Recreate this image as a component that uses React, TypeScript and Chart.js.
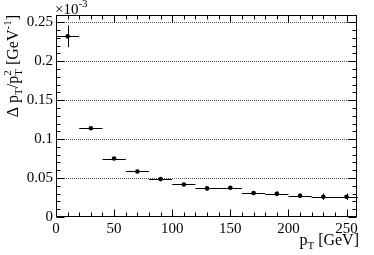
import React, { useEffect, useRef } from 'react';
import { Chart, registerables } from 'chart.js';

Chart.register(...registerables);

// ---- data (values in units of 10^-3 GeV^-1) ----
const ptCenters = [10, 30, 50, 70, 90, 110, 130, 150, 170, 190, 210, 230, 250];
const ptHalfWidths = [10, 10, 10, 10, 10, 10, 10, 10, 10, 10, 10, 10, 10];
const resolution = [0.232, 0.114, 0.0751, 0.0585, 0.0487, 0.0418, 0.0367, 0.0376, 0.0308, 0.0299, 0.0273, 0.026, 0.026];
const resolutionErr = [0.014, 0.002, 0.002, 0.002, 0.002, 0.002, 0.002, 0.002, 0.002, 0.003, 0.003, 0.004, 0.004];
const xTicks = [0, 50, 100, 150, 200, 250];
const yTicks = [0, 0.05, 0.1, 0.15, 0.2, 0.25];
const xRange = [0, 259];
const yRange = [0, 0.2594];
const xMinorStep = 10;
const yMinorStep = 0.01;

const FONT = '"Liberation Serif", "DejaVu Serif", serif';

type Part = { t?: string; size: number; dy?: number; sub?: string; sup?: string; subSize?: number; supSize?: number; subDy?: number; supDy?: number };

function partWidth(ctx: CanvasRenderingContext2D, p: Part): number {
  if (p.t !== undefined) {
    ctx.font = `${p.size}px ${FONT}`;
    return ctx.measureText(p.t).width;
  }
  let w = 0;
  if (p.sub) { ctx.font = `${p.subSize}px ${FONT}`; w = Math.max(w, ctx.measureText(p.sub).width); }
  if (p.sup) { ctx.font = `${p.supSize}px ${FONT}`; w = Math.max(w, ctx.measureText(p.sup).width); }
  return w;
}

function drawRich(ctx: CanvasRenderingContext2D, parts: Part[], xEnd: number, baseline: number) {
  const total = parts.reduce((s, p) => s + partWidth(ctx, p), 0);
  let x = xEnd - total;
  ctx.textAlign = 'left';
  ctx.textBaseline = 'alphabetic';
  ctx.fillStyle = '#000';
  for (const p of parts) {
    const w = partWidth(ctx, p);
    if (p.t !== undefined) {
      ctx.font = `${p.size}px ${FONT}`;
      ctx.fillText(p.t, x, baseline + (p.dy || 0));
    } else {
      if (p.sub) { ctx.font = `${p.subSize}px ${FONT}`; ctx.fillText(p.sub, x, baseline + (p.subDy || 0)); }
      if (p.sup) { ctx.font = `${p.supSize}px ${FONT}`; ctx.fillText(p.sup, x, baseline + (p.supDy || 0)); }
    }
    x += w;
  }
}

const rootPlugin = {
  id: 'rootStyle',
  beforeDatasetsDraw(chart: any) {
    const { ctx, chartArea: a, scales } = chart;
    const xs = scales.x, ys = scales.y;
    ctx.save();
    // dotted horizontal grid
    ctx.strokeStyle = '#555';
    ctx.lineWidth = 1;
    ctx.setLineDash([1, 1]);
    for (const v of yTicks) {
      if (v === yRange[0]) continue;
      const py = Math.round(ys.getPixelForValue(v)) + 0.5;
      ctx.beginPath();
      ctx.moveTo(a.left, py);
      ctx.lineTo(a.right, py);
      ctx.stroke();
    }
    ctx.setLineDash([]);
    // error bars
    ctx.strokeStyle = '#000';
    ctx.lineWidth = 1;
    for (let i = 0; i < ptCenters.length; i++) {
      const px = xs.getPixelForValue(ptCenters[i]);
      const py = ys.getPixelForValue(resolution[i]);
      const x0 = xs.getPixelForValue(ptCenters[i] - ptHalfWidths[i]);
      const x1 = xs.getPixelForValue(ptCenters[i] + ptHalfWidths[i]);
      const y0 = ys.getPixelForValue(resolution[i] - resolutionErr[i]);
      const y1 = ys.getPixelForValue(resolution[i] + resolutionErr[i]);
      ctx.beginPath();
      ctx.moveTo(x0, Math.round(py) + 0.5);
      ctx.lineTo(x1, Math.round(py) + 0.5);
      ctx.moveTo(Math.round(px) + 0.5, y0);
      ctx.lineTo(Math.round(px) + 0.5, y1);
      ctx.stroke();
    }
    ctx.restore();
  },
  afterDraw(chart: any) {
    const { ctx, chartArea: a, scales } = chart;
    const xs = scales.x, ys = scales.y;
    ctx.save();
    ctx.strokeStyle = '#000';
    ctx.lineWidth = 1;
    const L = Math.round(a.left) + 0.5;
    const R = Math.round(a.right) - 0.5;
    const T = Math.round(a.top) + 0.5;
    const B = Math.round(a.bottom) - 0.5;
    ctx.strokeRect(L, T, R - L, B - T);
    ctx.beginPath();
    // x ticks (bottom & top)
    for (let v = xRange[0]; v <= xRange[1] + 1e-9; v += xMinorStep) {
      const major = xTicks.some(t => Math.abs(t - v) < 1e-6);
      const len = major ? 7 : 4;
      const px = Math.round(xs.getPixelForValue(v)) + 0.5;
      ctx.moveTo(px, B); ctx.lineTo(px, B - len);
      ctx.moveTo(px, T); ctx.lineTo(px, T + len);
    }
    // y ticks (left & right)
    for (let k = 0; k * yMinorStep <= yRange[1] + 1e-9; k++) {
      const v = k * yMinorStep;
      const major = yTicks.some(t => Math.abs(t - v) < 1e-6);
      const len = major ? 8 : 4;
      const py = Math.round(ys.getPixelForValue(v)) + 0.5;
      ctx.moveTo(L, py); ctx.lineTo(L + len, py);
      ctx.moveTo(R, py); ctx.lineTo(R - len, py);
    }
    ctx.stroke();

    // x-axis title
    drawRich(ctx, [
      { t: 'p', size: 16 },
      { t: 'T', size: 11, dy: 4 },
      { t: ' [GeV]', size: 16 },
    ], 359, 245);

    // y-axis title (rotated)
    ctx.save();
    ctx.translate(17.5, a.top);
    ctx.rotate(-Math.PI / 2);
    drawRich(ctx, [
      { t: '\u0394 p', size: 16 },
      { t: 'T', size: 11, dy: 4 },
      { t: '/p', size: 16 },
      { sub: 'T', sup: '2', subSize: 11, supSize: 11, subDy: 4, supDy: -7 },
      { t: ' [GeV', size: 16 },
      { t: '-1', size: 11, dy: -7 },
      { t: ']', size: 16 },
    ], 0, 0);
    ctx.restore();

    // exponent label
    ctx.fillStyle = '#000';
    ctx.textAlign = 'left';
    ctx.textBaseline = 'alphabetic';
    ctx.font = `15px ${FONT}`;
    ctx.fillText('\u00d710', 55, 14);
    const w = ctx.measureText('\u00d710').width;
    ctx.font = `11px ${FONT}`;
    ctx.fillText('-3', 55 + w, 7);
    ctx.restore();
  },
};

export default function App() {
  const ref = useRef<HTMLCanvasElement | null>(null);
  useEffect(() => {
    if (!ref.current) return;
    const chart = new Chart(ref.current, {
      type: 'scatter',
      data: {
        datasets: [{
          data: ptCenters.map((x, i) => ({ x, y: resolution[i] })),
          pointRadius: 2.3,
          pointBackgroundColor: '#000',
          pointBorderColor: '#000',
          pointBorderWidth: 0,
          showLine: false,
        }],
      },
      options: {
        responsive: false,
        animation: false,
        devicePixelRatio: 1,
        layout: { padding: { top: 15, right: 17, left: 0, bottom: 0 } },
        plugins: { legend: { display: false }, tooltip: { enabled: false } },
        events: [],
        scales: {
          x: {
            type: 'linear',
            min: xRange[0],
            max: xRange[1],
            grid: { display: false, drawTicks: false, tickLength: 0 },
            border: { display: false },
            afterBuildTicks: (s: any) => { s.ticks = xTicks.map(v => ({ value: v })); },
            afterFit: (s: any) => { s.height = 38; },
            ticks: {
              color: '#000',
              font: { family: FONT, size: 15 },
              padding: 3,
              maxRotation: 0,
              autoSkip: false,
              callback: (v: any) => String(v),
            },
          },
          y: {
            type: 'linear',
            min: yRange[0],
            max: yRange[1],
            grid: { display: false, drawTicks: false, tickLength: 0 },
            border: { display: false },
            afterBuildTicks: (s: any) => { s.ticks = yTicks.map(v => ({ value: v })); },
            afterFit: (s: any) => { s.width = 56; },
            ticks: {
              color: '#000',
              font: { family: FONT, size: 15 },
              padding: 3,
              autoSkip: false,
              callback: (v: any) => String(v),
            },
          },
        },
      },
      plugins: [rootPlugin],
    } as any);
    return () => chart.destroy();
  }, []);
  return (
    <div style={{ position: 'fixed', left: 0, top: 0, width: 374, height: 255, background: '#fff' }}>
      <canvas ref={ref} width={374} height={255} style={{ display: 'block', width: 374, height: 255 }} />
    </div>
  );
}
